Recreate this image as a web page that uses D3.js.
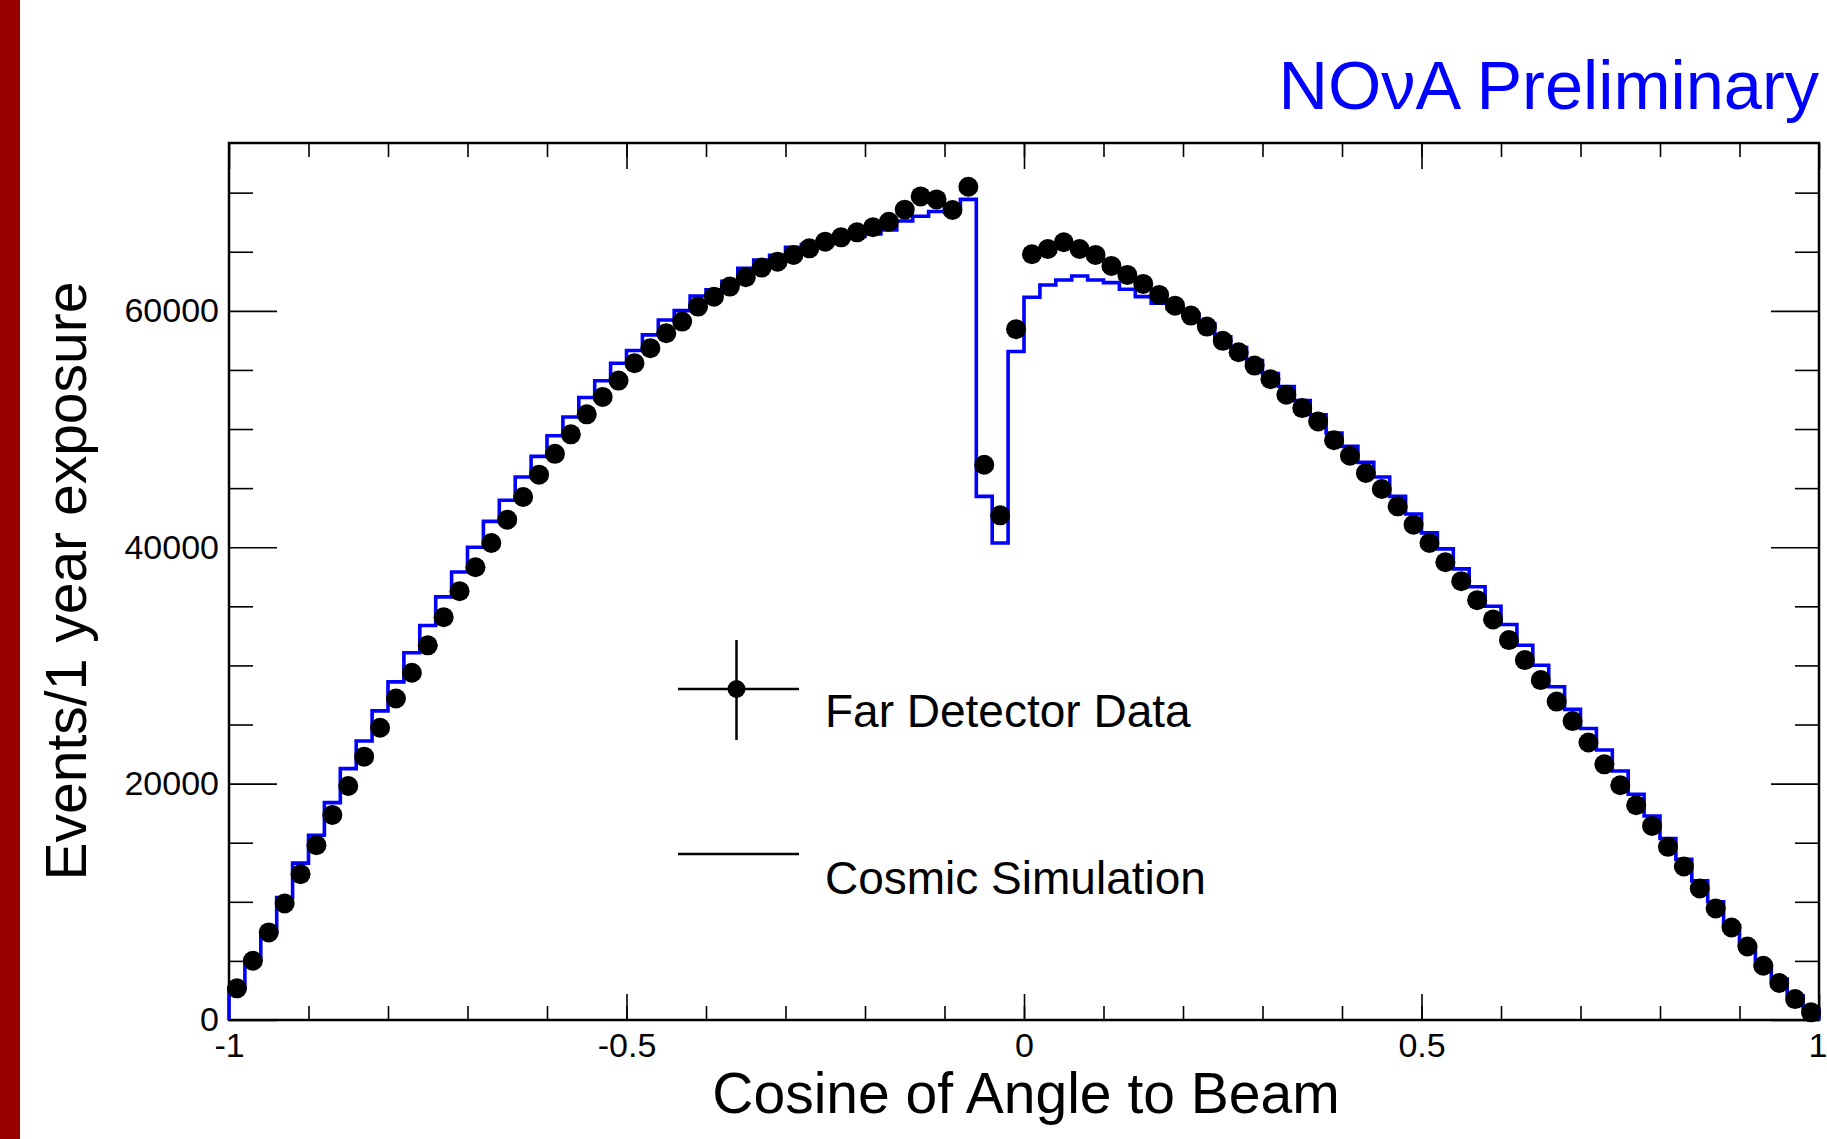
<!DOCTYPE html>
<html>
<head>
<meta charset="utf-8">
<script src="https://cdn.jsdelivr.net/npm/d3@7"></script>
<style>
  body { margin: 0; background: #fff; }
  svg { display: block; font-family: "Liberation Sans", Arial, Helvetica, sans-serif; }
</style>
</head>
<body>
<div id="chart"></div>
<script>
// cos(angle to beam), 100 bins of width 0.02 from -1 to 1
const BIN_LO = -1;
const BIN_W = 0.02;

// Far Detector data, events per bin
const DATA = [
  2680, 5010, 7410, 9860, 12340, 14790, 17350, 19800, 22280, 24730,
  27200, 29380, 31700, 34080, 36280, 38310, 40360, 42330, 44250, 46140,
  47900, 49550, 51240, 52720, 54100, 55570, 56840, 58110, 59090, 60360,
  61200, 62050, 62840, 63660, 64160, 64730, 65290, 65850, 66220, 66640,
  67070, 67540, 68560, 69680, 69430, 68530, 70500, 46980, 42700, 58450,
  64790, 65230, 65800, 65230, 64730, 63800, 63040, 62280, 61350, 60440,
  59600, 58670, 57460, 56500, 55370, 54220, 52900, 51770, 50640, 49060,
  47740, 46280, 44930, 43460, 41910, 40360, 38730, 37130, 35520, 33890,
  32140, 30450, 28760, 26940, 25290, 23480, 21630, 19860, 18170, 16420,
  14650, 12990, 11130, 9430, 7830, 6220, 4590, 3130, 1770, 650,
];

// Cosmic simulation, events per bin
const SIM = [
  2700, 5050, 7500, 10370, 13270, 15630, 18390, 21270, 23600, 26150,
  28610, 31070, 33380, 35800, 37910, 40000, 42190, 43970, 45940, 47690,
  49430, 51020, 52670, 54080, 55560, 56640, 57970, 59230, 60020, 61260,
  61770, 62500, 63600, 64300, 64700, 65380, 65600, 65900, 66200, 66300,
  66500, 66840, 67600, 68000, 68400, 68800, 69430, 44300, 40360, 56560,
  61150, 62190, 62610, 62950, 62610, 62390, 61830, 61200, 60640, 60200,
  59700, 58900, 57800, 56900, 55800, 54700, 53600, 52400, 51200, 49660,
  48530, 47180, 45940, 44300, 42810, 41210, 39860, 38170, 36650, 35010,
  33460, 31710, 30020, 28200, 26280, 24660, 22840, 21070, 19100, 17260,
  15350, 13600, 11770, 10000, 7970, 6280, 4590, 3460, 2050, 930,
];

const X_MAJOR = [-1, -0.5, 0, 0.5, 1];
const X_MINOR = d3.range(-0.9, 1, 0.1).map(v => +v.toFixed(1));
const Y_MAJOR = [0, 20000, 40000, 60000];
const Y_MINOR = [5000, 10000, 15000, 25000, 30000, 35000, 45000, 50000, 55000, 65000, 70000];
const Y_MAX = 74200;

const LEGEND = [
  { label: 'Far Detector Data', kind: 'data' },
  { label: 'Cosmic Simulation', kind: 'sim' },
];

const W = 1827, H = 1139;
const M = { left: 229, right: 1819, top: 143, bottom: 1020 };
const FONT = '"Liberation Sans", Arial, Helvetica, sans-serif';

const svg = d3.select('#chart').append('svg').attr('width', W).attr('height', H);
svg.append('rect').attr('width', W).attr('height', H).attr('fill', '#fff');

// red slide strip on the left
svg.append('rect').attr('x', 0).attr('y', 0).attr('width', 20).attr('height', H).attr('fill', '#990000');

const x = d3.scaleLinear().domain([-1, 1]).range([M.left, M.right]);
const y = d3.scaleLinear().domain([0, Y_MAX]).range([M.bottom, M.top]);

const fmt = d => String(d);

function styleAxis(g, labelSize) {
  g.select('.domain').remove();
  g.selectAll('.tick line').attr('stroke', '#000').attr('stroke-width', 1.6);
  g.selectAll('.tick text').attr('fill', '#000').style('font-size', labelSize + 'px').style('font-family', FONT);
}

// bottom axis (labels) + minor ticks
svg.append('g').attr('transform', `translate(0,${M.bottom})`)
  .call(d3.axisBottom(x).tickValues(X_MAJOR).tickFormat(fmt).tickSizeInner(-26).tickSizeOuter(0).tickPadding(13))
  .call(g => styleAxis(g, 34))
  // last label sits on the page edge; pull it in so it stays whole
  .call(g => g.selectAll('.tick text').filter(d => d === 1).attr('text-anchor', 'end').attr('x', 8));
svg.append('g').attr('transform', `translate(0,${M.bottom})`)
  .call(d3.axisBottom(x).tickValues(X_MINOR).tickFormat('').tickSizeInner(-14).tickSizeOuter(0))
  .call(g => styleAxis(g, 34));

// top axis ticks
svg.append('g').attr('transform', `translate(0,${M.top})`)
  .call(d3.axisTop(x).tickValues(X_MAJOR).tickFormat('').tickSizeInner(-26).tickSizeOuter(0))
  .call(g => styleAxis(g, 34));
svg.append('g').attr('transform', `translate(0,${M.top})`)
  .call(d3.axisTop(x).tickValues(X_MINOR).tickFormat('').tickSizeInner(-14).tickSizeOuter(0))
  .call(g => styleAxis(g, 34));

// left axis
svg.append('g').attr('transform', `translate(${M.left},0)`)
  .call(d3.axisLeft(y).tickValues(Y_MAJOR).tickFormat(fmt).tickSizeInner(-48).tickSizeOuter(0).tickPadding(10))
  .call(g => styleAxis(g, 34));
svg.append('g').attr('transform', `translate(${M.left},0)`)
  .call(d3.axisLeft(y).tickValues(Y_MINOR).tickFormat('').tickSizeInner(-24).tickSizeOuter(0))
  .call(g => styleAxis(g, 34));

// right axis ticks
svg.append('g').attr('transform', `translate(${M.right},0)`)
  .call(d3.axisRight(y).tickValues(Y_MAJOR).tickFormat('').tickSizeInner(-48).tickSizeOuter(0))
  .call(g => styleAxis(g, 34));
svg.append('g').attr('transform', `translate(${M.right},0)`)
  .call(d3.axisRight(y).tickValues(Y_MINOR).tickFormat('').tickSizeInner(-24).tickSizeOuter(0))
  .call(g => styleAxis(g, 34));

// frame
svg.append('rect')
  .attr('x', M.left).attr('y', M.top)
  .attr('width', M.right - M.left).attr('height', M.bottom - M.top)
  .attr('fill', 'none').attr('stroke', '#000').attr('stroke-width', 2.5);

// simulation histogram (step outline)
const steps = [[BIN_LO, 0]];
SIM.forEach((v, i) => {
  const lo = BIN_LO + i * BIN_W;
  steps.push([lo, v], [lo + BIN_W, v]);
});
steps.push([BIN_LO + SIM.length * BIN_W, 0]);

svg.append('path')
  .datum(steps)
  .attr('fill', 'none')
  .attr('stroke', '#0000ff')
  .attr('stroke-width', 3.6)
  .attr('stroke-linejoin', 'miter')
  .attr('d', d3.line().x(d => x(d[0])).y(d => y(d[1])));

// data points at bin centres
svg.append('g').selectAll('circle')
  .data(DATA)
  .join('circle')
  .attr('cx', (d, i) => x(BIN_LO + (i + 0.5) * BIN_W))
  .attr('cy', d => y(d))
  .attr('r', 10)
  .attr('fill', '#000');

// legend
const leg = svg.append('g');
const LEG_X0 = 678, LEG_X1 = 799, LEG_TX = 825;
const LEG_ROWS = [689, 854];
LEGEND.forEach((e, i) => {
  const cy = LEG_ROWS[i];
  leg.append('line')
    .attr('x1', LEG_X0).attr('x2', LEG_X1).attr('y1', cy).attr('y2', cy)
    .attr('stroke', '#000').attr('stroke-width', 2.5);
  if (e.kind === 'data') {
    const cx = (LEG_X0 + LEG_X1) / 2 - 2;
    leg.append('line')
      .attr('x1', cx).attr('x2', cx).attr('y1', cy - 49).attr('y2', cy + 51)
      .attr('stroke', '#000').attr('stroke-width', 2.5);
    leg.append('circle').attr('cx', cx).attr('cy', cy).attr('r', 9).attr('fill', '#000');
  }
  leg.append('text')
    .attr('x', LEG_TX).attr('y', i === 0 ? 727 : 894)
    .style('font-size', '46px').style('font-family', FONT)
    .attr('fill', '#000')
    .text(e.label);
});

// axis titles
svg.append('text')
  .attr('x', 1026).attr('y', 1113)
  .attr('text-anchor', 'middle')
  .style('font-size', '57px').style('font-family', FONT)
  .text('Cosine of Angle to Beam');

svg.append('text')
  .attr('transform', 'translate(86,581) rotate(-90)')
  .attr('text-anchor', 'middle')
  .style('font-size', '57px').style('font-family', FONT)
  .text('Events/1 year exposure');

// preliminary tag
svg.append('text')
  .attr('x', 1819).attr('y', 109)
  .attr('text-anchor', 'end')
  .attr('fill', '#0000ff')
  .style('font-size', '68.5px').style('font-family', FONT)
  .text('NOνA Preliminary');
</script>
</body>
</html>
